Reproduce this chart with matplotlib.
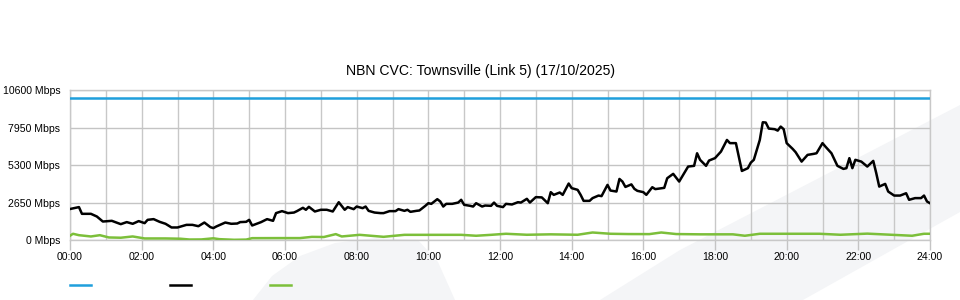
import matplotlib
matplotlib.use("Agg")
import matplotlib.pyplot as plt
from matplotlib.patches import Polygon
from matplotlib.lines import Line2D

# ---------------- datos ----------------
# minutos desde 00:00 y Mbps

titulo = "NBN CVC: Townsville (Link 5) (17/10/2025)"

capacidad_t = [0, 1440]
capacidad_v = [10000, 10000]

trafico_t = [0, 15, 20, 35, 45, 55, 70, 85, 95, 105, 115, 125, 130, 140, 150,
             160, 170, 180, 195, 205, 215, 225, 235, 240, 245, 255, 260, 270,
             280, 285, 295, 300, 305, 320, 330, 340, 345, 355, 365, 375, 380,
             390, 395, 400, 410, 420, 430, 440, 450, 460, 465, 475, 480, 490,
             495, 500, 510, 520, 525, 535, 545, 550, 560, 565, 570, 580, 585,
             595, 600, 605, 615, 620, 625, 630, 640, 650, 655, 660, 670, 675,
             680, 690, 695, 705, 710, 715, 725, 730, 740, 750, 755, 765, 770,
             780, 790, 800, 805, 810, 820, 825, 835, 840, 850, 855, 860, 870,
             875, 885, 890, 900, 905, 915, 920, 925, 930, 940, 945, 950, 960,
             965, 975, 980, 995, 1000, 1010, 1020, 1025, 1035, 1045, 1050,
             1055, 1065, 1070, 1080, 1090, 1100, 1105, 1115, 1125, 1135, 1140,
             1145, 1155, 1160, 1165, 1170, 1180, 1185, 1190, 1195, 1200, 1210,
             1215, 1225, 1235, 1245, 1250, 1260, 1265, 1275, 1285, 1295, 1300,
             1305, 1310, 1315, 1325, 1335, 1345, 1350, 1355, 1365, 1370, 1380,
             1390, 1400, 1405, 1415, 1425, 1430, 1435, 1440]
trafico_v = [2190, 2325, 1850, 1850, 1660, 1305, 1355, 1120, 1265, 1145, 1335,
             1190, 1425, 1475, 1285, 1145, 885, 885, 1070, 1070, 975, 1235,
             910, 840, 955, 1145, 1235, 1145, 1165, 1265, 1285, 1425, 1025,
             1265, 1475, 1355, 1900, 2040, 1900, 1940, 2040, 2275, 2135, 2345,
             2015, 2135, 2135, 2015, 2670, 2135, 2325, 2180, 2365, 2250, 2365,
             2060, 1940, 1900, 1900, 2040, 2040, 2180, 2060, 2135, 1990, 2060,
             2085, 2415, 2600, 2555, 2885, 2720, 2365, 2555, 2555, 2645, 2840,
             2485, 2415, 2365, 2600, 2365, 2435, 2415, 2645, 2415, 2325, 2555,
             2510, 2670, 2645, 2910, 2645, 3030, 3010, 2600, 3380, 3190, 3355,
             3190, 3990, 3665, 3545, 3190, 2765, 2765, 2960, 3140, 3100, 3895,
             3495, 3425, 4315, 4130, 3750, 3930, 3615, 3475, 3380, 3190, 3730,
             3595, 3685, 4365, 4675, 4130, 4485, 5190, 5240, 6130, 5665, 5240,
             5615, 5785, 6250, 7070, 6845, 6845, 4880, 5075, 5470, 5665, 7070,
             8320, 8300, 7875, 7830, 7730, 8015, 7830, 6845, 6440, 6205, 5540,
             6015, 6085, 6130, 6845, 6595, 6130, 5240, 5025, 5075, 5785, 5075,
             5665, 5540, 5190, 5590, 4725, 3775, 3965, 3425, 3140, 3140, 3305,
             2840, 2960, 2960, 3140, 2720, 2600]

subida_t = [0, 5, 15, 35, 50, 65, 85, 105, 125, 160, 185, 200, 220, 240, 250,
            275, 295, 305, 350, 385, 405, 425, 445, 455, 485, 525, 560, 605,
            655, 680, 705, 730, 765, 805, 850, 875, 905, 935, 970, 990, 1015,
            1055, 1110, 1130, 1155, 1205, 1255, 1290, 1335, 1375, 1410, 1430,
            1440]
subida_v = [300, 440, 340, 250, 340, 180, 160, 250, 110, 110, 90, 35, 40, 120,
            60, 15, 30, 130, 135, 135, 220, 210, 415, 250, 365, 225, 365, 365,
            365, 300, 365, 440, 370, 400, 370, 530, 440, 420, 416, 530, 420,
            400, 400, 300, 440, 440, 440, 370, 450, 370, 300, 440, 440]

ticks_y = [0, 2650, 5300, 7950, 10600]
ticks_x = list(range(0, 1441, 120))
etiquetas_x = ["%02d:00" % (m // 60) for m in ticks_x]

# ---------------- figura ----------------
plt.rcParams['font.family'] = ['Liberation Sans', 'DejaVu Sans']

fig = plt.figure(figsize=(9.6, 3.0), dpi=100)
ax = fig.add_axes([70 / 960, 1 - 240 / 300, 860 / 960, 150 / 300])
ax.set_facecolor('none')

# marca de agua gris muy claro detras del grafico
def px(puntos):
    return [(x / 960, 1 - y / 300) for x, y in puntos]

gris_marca = '#f4f5f7'
fig.patches.append(Polygon(px([(253, 300), (272, 276), (300, 256), (335, 243),
                               (375, 238), (418, 240), (438, 262), (455, 300)]),
                           closed=True, transform=fig.transFigure,
                           facecolor=gris_marca, edgecolor='none', zorder=-5))
fig.patches.append(Polygon(px([(600, 300), (680, 250), (960, 105), (960, 212),
                               (910, 240), (803, 300)]),
                           closed=True, transform=fig.transFigure,
                           facecolor=gris_marca, edgecolor='none', zorder=-5))

# series
ax.plot(capacidad_t, capacidad_v, color='#1f9fdc', lw=1.8, zorder=4)
ax.plot(subida_t, subida_v, color='#7cbf3a', lw=1.8, zorder=4)
ax.plot(trafico_t, trafico_v, color='black', lw=1.8, zorder=5)

# ejes
ax.set_xlim(0, 1440)
ax.set_ylim(0, 10600)
ax.set_xticks(ticks_x)
ax.set_xticklabels(etiquetas_x)
ax.set_xticks(range(0, 1441, 60), minor=True)
ax.set_yticks(ticks_y)
ax.set_yticklabels(["%d Mbps" % v for v in ticks_y])

ax.tick_params(axis='x', which='major', length=7, width=1, color='#c4c4c4',
               pad=1.5, labelsize=7.6, labelcolor='black')
ax.tick_params(axis='x', which='minor', length=0)
ax.tick_params(axis='y', length=0, pad=7, labelsize=7.6, labelcolor='black')

ax.grid(True, which='both', axis='x', color='#c8c8c8', lw=1)
ax.grid(True, which='major', axis='y', color='#c4c4c4', lw=1)
ax.set_axisbelow(True)
for lado in ax.spines.values():
    lado.set_color('#c8c8c8')
    lado.set_linewidth(1)

fig.text(0.5, 1 - 71 / 300, titulo, ha='center', va='center', fontsize=10.1)

# leyenda: solo trazos cortos, sin texto
for x0, color in [(70, '#1f9fdc'), (170, 'black'), (270, '#7cbf3a')]:
    fig.add_artist(Line2D([x0 / 960, (x0 + 21) / 960], [1 - 285 / 300] * 2,
                          transform=fig.transFigure, color=color, lw=1.8))

fig.savefig('out.png', dpi=100)
